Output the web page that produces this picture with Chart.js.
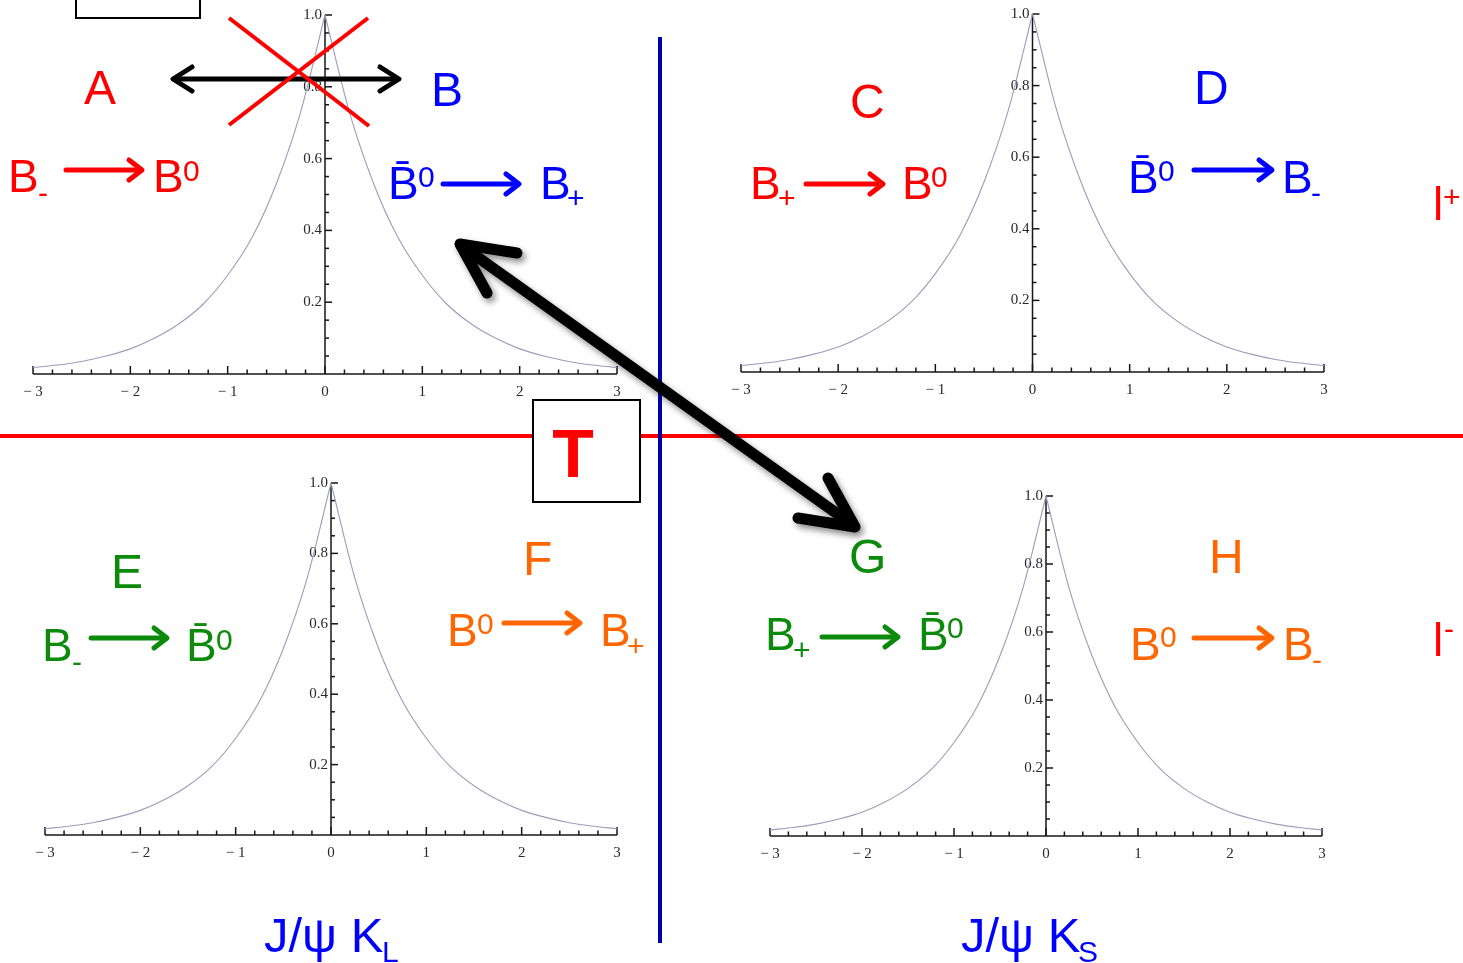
<!DOCTYPE html>
<html>
<head>
<meta charset="utf-8">
<title>B0 transitions</title>
<script src="https://cdn.jsdelivr.net/npm/chart.js@4.4.1/dist/chart.umd.min.js"></script>
<style>
  html, body { margin: 0; padding: 0; background: #fff; }
  #stage { position: relative; width: 1463px; height: 963px; overflow: hidden; background: #fff; }
  .panel { position: absolute; }
  #overlay { position: absolute; left: 0; top: 0; pointer-events: none; }
  #overlay text { font-family: "Liberation Sans", Arial, sans-serif; }
</style>
</head>
<body>
<div id="stage">
  <div class="panel" id="p0"><canvas id="c0"></canvas></div>
  <div class="panel" id="p1"><canvas id="c1"></canvas></div>
  <div class="panel" id="p2"><canvas id="c2"></canvas></div>
  <div class="panel" id="p3"><canvas id="c3"></canvas></div>

  <svg id="overlay" width="1463" height="963" viewBox="0 0 1463 963">
    <defs>
      <filter id="shadow" x="-20%" y="-20%" width="140%" height="140%">
        <feDropShadow dx="3" dy="4" stdDeviation="3" flood-color="#000" flood-opacity="0.45"/>
      </filter>
    </defs>

    <!-- dividers -->
    <line x1="0" y1="436" x2="1463" y2="436" stroke="#ff0000" stroke-width="4"/>
    <line x1="660" y1="37" x2="660" y2="943" stroke="#0000a8" stroke-width="4"/>

    <!-- empty box, top left -->
    <rect x="76" y="-4" width="124" height="22" fill="none" stroke="#000" stroke-width="2"/>

    <!-- T box -->
    <rect x="533" y="400" width="107" height="102" fill="#fff" stroke="#000" stroke-width="2"/>
    <text x="573" y="477" font-size="68" font-weight="bold" fill="#ff0000" text-anchor="middle">T</text>

    <!-- A <-> B arrow, crossed out -->
    <g stroke="#000" stroke-width="5" stroke-linecap="round" stroke-linejoin="round" fill="none">
      <line x1="174" y1="79" x2="398" y2="79"/>
      <polyline points="192,67 173,79 192,91"/>
      <polyline points="380,67 399,79 380,91"/>
    </g>
    <g stroke="#ff0000" stroke-width="4">
      <line x1="229" y1="18" x2="369" y2="126"/>
      <line x1="368" y1="18" x2="229" y2="125"/>
    </g>

    <!-- B <-> G arrow -->
    <g stroke="#000" stroke-width="11" stroke-linecap="round" stroke-linejoin="round" fill="none" filter="url(#shadow)">
      <line x1="462" y1="246" x2="853" y2="525"/>
      <polyline points="517,253 460,244 487,293"/>
      <polyline points="828,478 855,527 798,518"/>
    </g>

    <!-- panel letters -->
    <g font-size="48">
      <text x="84" y="104" fill="#ff0000">A</text>
      <text x="431" y="106" fill="#0000ff">B</text>
      <text x="850" y="118" fill="#ff0000">C</text>
      <text x="1194" y="104" fill="#0000ff">D</text>
      <text x="111" y="588" fill="#0b8a0b">E</text>
      <text x="523" y="575" fill="#ff6600">F</text>
      <text x="849" y="573" fill="#0b8a0b">G</text>
      <text x="1209" y="573" fill="#ff6600">H</text>
    </g>

    <!-- transition labels -->
    <g font-size="46">
      <text x="8" y="192" fill="#ff0000">B</text>
      <text x="153" y="192" fill="#ff0000">B</text>
      <text x="388" y="199" fill="#0000ff">B&#772;</text>
      <text x="540" y="199" fill="#0000ff">B</text>
      <text x="750" y="199" fill="#ff0000">B</text>
      <text x="902" y="199" fill="#ff0000">B</text>
      <text x="1128" y="193" fill="#0000ff">B&#772;</text>
      <text x="1282" y="193" fill="#0000ff">B</text>
      <text x="42" y="661" fill="#0b8a0b">B</text>
      <text x="186" y="661" fill="#0b8a0b">B&#772;</text>
      <text x="447" y="646" fill="#ff6600">B</text>
      <text x="600" y="646" fill="#ff6600">B</text>
      <text x="765" y="650" fill="#0b8a0b">B</text>
      <text x="918" y="650" fill="#0b8a0b">B&#772;</text>
      <text x="1130" y="660" fill="#ff6600">B</text>
      <text x="1283" y="660" fill="#ff6600">B</text>
      <text x="1433" y="220" fill="#ff0000">l</text>
      <text x="1433" y="656" fill="#ff0000">l</text>
    </g>
    <g font-size="30">
      <text x="38" y="203" fill="#ff0000">-</text>
      <text x="183" y="181" fill="#ff0000">0</text>
      <text x="418" y="187" fill="#0000ff">0</text>
      <text x="567" y="208" fill="#0000ff">+</text>
      <text x="778" y="208" fill="#ff0000">+</text>
      <text x="931" y="187" fill="#ff0000">0</text>
      <text x="1158" y="181" fill="#0000ff">0</text>
      <text x="1311" y="203" fill="#0000ff">-</text>
      <text x="1443" y="207" fill="#ff0000">+</text>
      <text x="1444" y="639" fill="#ff0000">-</text>
      <text x="72" y="672" fill="#0b8a0b">-</text>
      <text x="216" y="650" fill="#0b8a0b">0</text>
      <text x="477" y="634" fill="#ff6600">0</text>
      <text x="627" y="656" fill="#ff6600">+</text>
      <text x="793" y="660" fill="#0b8a0b">+</text>
      <text x="947" y="638" fill="#0b8a0b">0</text>
      <text x="1160" y="647" fill="#ff6600">0</text>
      <text x="1312" y="670" fill="#ff6600">-</text>
    </g>

    <!-- transition arrows -->
    <g stroke-width="5" stroke-linecap="round" stroke-linejoin="round" fill="none">
      <g stroke="#ff0000">
        <line x1="66" y1="170" x2="141" y2="170"/><polyline points="129,160 142,170 129,180"/>
        <line x1="806" y1="184" x2="882" y2="184"/><polyline points="870,174 883,184 870,194"/>
      </g>
      <g stroke="#0000ff">
        <line x1="443" y1="184" x2="518" y2="184"/><polyline points="506,174 519,184 506,194"/>
        <line x1="1194" y1="170" x2="1271" y2="170"/><polyline points="1259,160 1272,170 1259,180"/>
      </g>
      <g stroke="#0b8a0b">
        <line x1="91" y1="638" x2="166" y2="638"/><polyline points="154,628 167,638 154,648"/>
        <line x1="822" y1="637" x2="897" y2="637"/><polyline points="885,627 898,637 885,647"/>
      </g>
      <g stroke="#ff6600">
        <line x1="504" y1="623" x2="579" y2="623"/><polyline points="567,613 580,623 567,633"/>
        <line x1="1194" y1="638" x2="1271" y2="638"/><polyline points="1259,628 1272,638 1259,648"/>
      </g>
    </g>

    <!-- decay channels -->
    <g fill="#0000ff">
      <text x="264" y="952" font-size="49">J/ψ K</text>
      <text x="382" y="962" font-size="30">L</text>
      <text x="961" y="952" font-size="49">J/ψ K</text>
      <text x="1078" y="962" font-size="30">S</text>
    </g>
  </svg>
</div>

<script>
// decay-time curve, left and right of the peak
const curveXLeft  = [-3, -2.75, -2.5, -2.25, -2, -1.75, -1.5, -1.25, -1, -0.75, -0.5, -0.25, 0];
const curveYLeft  = [0.018, 0.025, 0.035, 0.05, 0.07, 0.1, 0.14, 0.195, 0.275, 0.38, 0.53, 0.73, 1.0];
const curveXRight = [0, 0.25, 0.5, 0.75, 1, 1.25, 1.5, 1.75, 2, 2.25, 2.5, 2.75, 3];
const curveYRight = [1.0, 0.73, 0.53, 0.38, 0.275, 0.195, 0.14, 0.1, 0.07, 0.05, 0.035, 0.025, 0.018];

const xTickValues = [-3, -2, -1, 0, 1, 2, 3];
const xTickLabels = ['\u2212 3', '\u2212 2', '\u2212 1', '0', '1', '2', '3'];
const yTickValues = [0.2, 0.4, 0.6, 0.8, 1.0];
const yTickLabels = ['0.2', '0.4', '0.6', '0.8', '1.0'];

// pixel box of each plot: x=-3..3 -> left..right, y=0..1 -> bottom..top
const panelBoxes = [
  { left: 33,  right: 617,  top: 15,  bottom: 374 },
  { left: 741, right: 1324, top: 14,  bottom: 372 },
  { left: 45,  right: 617,  top: 483, bottom: 835 },
  { left: 770, right: 1322, top: 496, bottom: 836 },
];
const PAD = { left: 45, right: 45, top: 20, bottom: 30 };

// axes through the origin with inward ticks, drawn from the chart's scales
const originAxes = {
  id: 'originAxes',
  beforeDatasetsDraw(chart) {
    const { ctx, scales: { x, y } } = chart;
    const x0 = x.getPixelForValue(0);
    const y0 = y.getPixelForValue(0);
    const seg = (ax, ay, bx, by) => { ctx.beginPath(); ctx.moveTo(ax, ay); ctx.lineTo(bx, by); ctx.stroke(); };

    ctx.save();
    ctx.strokeStyle = '#161616';
    ctx.lineWidth = 1.5;

    seg(x.getPixelForValue(-3), y0, x.getPixelForValue(3), y0);
    for (let i = -15; i <= 15; i++) {
      const px = x.getPixelForValue(i / 5);
      seg(px, y0, px, y0 - (i % 5 === 0 ? 8 : 4.5));
    }

    seg(x0, y0, x0, y.getPixelForValue(1));
    for (let j = 1; j <= 20; j++) {
      const py = y.getPixelForValue(j / 20);
      seg(x0, py, x0 + (j % 4 === 0 ? 7 : 4), py);
    }

    ctx.fillStyle = '#2a2a2a';
    ctx.font = '15px "Liberation Serif", "DejaVu Serif", serif';
    ctx.textBaseline = 'middle';
    ctx.textAlign = 'center';
    xTickValues.forEach((v, i) => ctx.fillText(xTickLabels[i], x.getPixelForValue(v), y0 + 18));
    ctx.textAlign = 'right';
    yTickValues.forEach((v, i) => ctx.fillText(yTickLabels[i], x0 - 3, y.getPixelForValue(v)));
    ctx.restore();
  }
};

function curveData(xs, ys) {
  return xs.map((v, i) => ({ x: v, y: ys[i] }));
}

panelBoxes.forEach((box, k) => {
  const w = box.right - box.left + PAD.left + PAD.right;
  const h = box.bottom - box.top + PAD.top + PAD.bottom;
  const wrap = document.getElementById('p' + k);
  wrap.style.left = (box.left - PAD.left) + 'px';
  wrap.style.top = (box.top - PAD.top) + 'px';
  const canvas = document.getElementById('c' + k);
  canvas.width = w;
  canvas.height = h;

  const lineStyle = {
    borderColor: '#9c9cbc',
    borderWidth: 1.1,
    pointRadius: 0,
    cubicInterpolationMode: 'monotone',
    clip: 6,
  };

  new Chart(canvas, {
    type: 'line',
    data: {
      datasets: [
        { data: curveData(curveXLeft, curveYLeft), ...lineStyle },
        { data: curveData(curveXRight, curveYRight), ...lineStyle },
      ]
    },
    options: {
      responsive: false,
      animation: false,
      layout: { padding: PAD },
      plugins: { legend: { display: false }, tooltip: { enabled: false } },
      scales: {
        x: { type: 'linear', min: -3, max: 3, display: false },
        y: { type: 'linear', min: 0, max: 1, display: false },
      },
    },
    plugins: [originAxes],
  });
});
</script>
</body>
</html>
